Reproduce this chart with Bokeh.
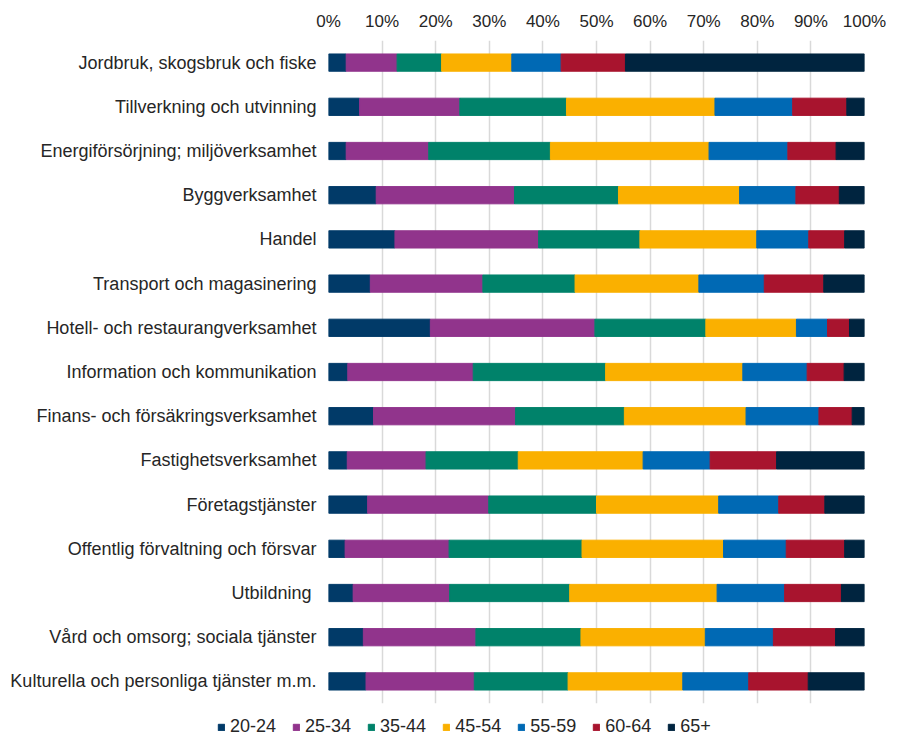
from bokeh.plotting import figure
from bokeh.layouts import column
from bokeh.models import (ColumnDataSource, FactorRange, Range1d, FixedTicker,
                          PrintfTickFormatter, Legend, LegendItem)
from bokeh.embed import file_html
from bokeh.resources import INLINE

categories = [
    "Jordbruk, skogsbruk och fiske",
    "Tillverkning och utvinning",
    "Energiförsörjning; miljöverksamhet",
    "Byggverksamhet",
    "Handel",
    "Transport och magasinering",
    "Hotell- och restaurangverksamhet",
    "Information och kommunikation",
    "Finans- och försäkringsverksamhet",
    "Fastighetsverksamhet",
    "Företagstjänster",
    "Offentlig förvaltning och försvar",
    "Utbildning ",
    "Vård och omsorg; sociala tjänster",
    "Kulturella och personliga tjänster m.m.",
]

age_groups = ["20-24", "25-34", "35-44", "45-54", "55-59", "60-64", "65+"]

a20_24 = [3.3, 5.8, 3.3, 8.9, 12.4, 7.8, 19.0, 3.6, 8.4, 3.5, 7.3, 3.1, 4.6, 6.5, 7.0]
a25_34 = [9.5, 18.7, 15.4, 25.8, 26.8, 21.0, 30.7, 23.4, 26.5, 14.7, 22.6, 19.4, 18.0, 21.0, 20.2]
a35_44 = [8.3, 19.9, 22.7, 19.4, 18.9, 17.2, 20.7, 24.7, 20.3, 17.2, 20.1, 24.8, 22.4, 19.6, 17.5]
a45_54 = [13.1, 27.7, 29.6, 22.6, 21.8, 23.1, 16.9, 25.6, 22.7, 23.3, 22.8, 26.4, 27.5, 23.2, 21.4]
a55_59 = [9.2, 14.5, 14.7, 10.5, 9.7, 12.2, 5.8, 12.0, 13.6, 12.5, 11.2, 11.7, 12.6, 12.7, 12.3]
a60_64 = [12.0, 10.1, 9.0, 8.1, 6.7, 11.1, 4.1, 6.9, 6.2, 12.4, 8.6, 10.9, 10.6, 11.6, 11.1]
a65p = [44.6, 3.3, 5.3, 4.7, 3.7, 7.6, 2.8, 3.8, 2.3, 16.4, 7.4, 3.7, 4.3, 5.4, 10.5]

x_ticks = [0, 10, 20, 30, 40, 50, 60, 70, 80, 90, 100]

colors = ["#013A68", "#91348C", "#00826A", "#FAB000", "#0069B4", "#A8142E", "#00243F"]
text_color = "#262626"
font = "Liberation Sans"

series = [a20_24, a25_34, a35_44, a45_54, a55_59, a60_64, a65p]
data = {"cat": categories}
for name, vals in zip(age_groups, series):
    data[name] = vals
source = ColumnDataSource(data)

W = 886
H_MAIN = 707
H_LEG = 30

p = figure(width=W, height=H_MAIN,
           y_range=FactorRange(factors=list(reversed(categories))),
           x_range=Range1d(0, 100),
           x_axis_location="above",
           output_backend="svg", toolbar_location=None,
           min_border_left=328, min_border_right=22,
           min_border_top=40, min_border_bottom=4)
p.frame_align = False

renderers = p.hbar_stack(age_groups, y="cat", height=0.39, color=colors,
                         source=source)

p.outline_line_color = None
p.ygrid.grid_line_color = None
p.xgrid.grid_line_color = "#D9D9D9"
p.xgrid.grid_line_width = 1.5
p.xgrid.ticker = FixedTicker(ticks=x_ticks)

p.xaxis.ticker = FixedTicker(ticks=x_ticks)
p.xaxis.formatter = PrintfTickFormatter(format="%d%%")
p.xaxis.minor_tick_line_color = None

for ax in (p.xaxis, p.yaxis):
    ax.axis_line_color = None
    ax.major_tick_line_color = None
    ax.major_tick_out = 0
    ax.major_tick_in = 0
    ax.major_label_text_font = font
    ax.major_label_text_color = text_color

p.xaxis.major_label_text_font_size = "17px"
p.xaxis.major_label_standoff = 10
p.yaxis.major_label_text_font_size = "18px"
p.yaxis.major_label_standoff = 12

# legend strip below the chart
pl = figure(width=W, height=H_LEG, x_range=Range1d(0, 1), y_range=Range1d(0, 1),
            x_axis_location=None, y_axis_location=None,
            output_backend="svg", toolbar_location=None,
            min_border_left=0, min_border_right=0, min_border_top=0,
            min_border_bottom=0)
pl.frame_align = False
pl.grid.visible = False
pl.outline_line_color = None

leg_renderers = []
for c in colors:
    r = pl.hbar(y=[-5], left=[-6], right=[-5], height=0.1, color=c)
    leg_renderers.append(r)

items = [LegendItem(label=g, renderers=[r]) for g, r in zip(age_groups, leg_renderers)]
legend = Legend(items=items, orientation="horizontal", location=(217, 0),
                glyph_width=8, glyph_height=8, label_standoff=5, spacing=16,
                padding=0, margin=0, border_line_color=None,
                background_fill_alpha=0,
                label_text_font=font, label_text_font_size="18px",
                label_text_color=text_color)
pl.add_layout(legend, "center")

layout = column(p, pl, spacing=0)

open("out.html", "w").write(file_html(layout, INLINE))
